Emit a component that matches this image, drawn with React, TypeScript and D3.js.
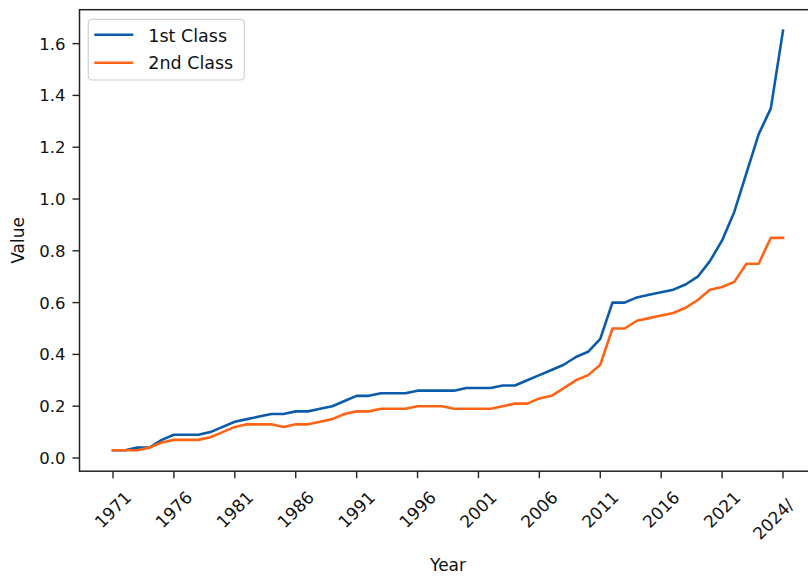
import React from 'react';
import * as d3 from 'd3';

// categories along the x axis (categorical, one slot per entry)
const years = [
  '1971', '1972', '1973', '1974', '1975', '1976', '1977', '1978', '1979', '1980',
  '1981', '1982', '1983', '1984', '1985', '1986', '1987', '1988', '1989', '1990',
  '1991', '1992', '1993', '1994', '1995', '1996', '1997', '1998', '1999', '2000',
  '2001', '2002', '2003', '2004', '2005', '2006', '2007', '2008', '2009', '2010',
  '2011', '2012', '2013', '2014', '2015', '2016', '2017', '2018', '2019', '2020',
  '2021', '2022', '2023', '2023/', '2024', '2024/',
];

const firstClass = [
  0.03, 0.03, 0.04, 0.04, 0.07, 0.09, 0.09, 0.09, 0.10, 0.12,
  0.14, 0.15, 0.16, 0.17, 0.17, 0.18, 0.18, 0.19, 0.20, 0.22,
  0.24, 0.24, 0.25, 0.25, 0.25, 0.26, 0.26, 0.26, 0.26, 0.27,
  0.27, 0.27, 0.28, 0.28, 0.30, 0.32, 0.34, 0.36, 0.39, 0.41,
  0.46, 0.60, 0.60, 0.62, 0.63, 0.64, 0.65, 0.67, 0.70, 0.76,
  0.84, 0.95, 1.10, 1.25, 1.35, 1.65,
];

const secondClass = [
  0.03, 0.03, 0.03, 0.04, 0.06, 0.07, 0.07, 0.07, 0.08, 0.10,
  0.12, 0.13, 0.13, 0.13, 0.12, 0.13, 0.13, 0.14, 0.15, 0.17,
  0.18, 0.18, 0.19, 0.19, 0.19, 0.20, 0.20, 0.20, 0.19, 0.19,
  0.19, 0.19, 0.20, 0.21, 0.21, 0.23, 0.24, 0.27, 0.30, 0.32,
  0.36, 0.50, 0.50, 0.53, 0.54, 0.55, 0.56, 0.58, 0.61, 0.65,
  0.66, 0.68, 0.75, 0.75, 0.85, 0.85,
];

const seriesNames = ['1st Class', '2nd Class'];
const seriesColors = ['#0b5bab', '#ff6414'];

const yTicks = [0, 0.2, 0.4, 0.6, 0.8, 1.0, 1.2, 1.4, 1.6];
// every 5th category plus the last one
const xTickIdx = [0, 5, 10, 15, 20, 25, 30, 35, 40, 45, 50, 55];

const W = 808;
const H = 576;
const font = 'DejaVu Sans, sans-serif';

export default function App() {
  const n = years.length;
  const all = firstClass.concat(secondClass);
  const lo = d3.min(all) as number;
  const hi = d3.max(all) as number;
  const ypad = (hi - lo) * 0.05;
  const xpad = (n - 1) * 0.05;

  const x = d3.scaleLinear().domain([-xpad, n - 1 + xpad]).range([79.5, 816.5]);
  const y = d3.scaleLinear().domain([lo - ypad, hi + ypad]).range([471.2, 9.7]);

  const line = d3.line<number>()
    .x((_, i) => x(i))
    .y(d => y(d));

  const left = x(-xpad);
  const right = x(n - 1 + xpad);
  const top = y(hi + ypad);
  const bottom = y(lo - ypad);

  return (
    <svg width={W} height={H} style={{ position: 'absolute', left: 0, top: 0, background: '#fff' }}
      fontFamily={font}>
      <rect x={0} y={0} width={W} height={H} fill="#fff" />

      {/* series */}
      {[firstClass, secondClass].map((s, k) => (
        <path key={k} d={line(s) || ''} fill="none" stroke={seriesColors[k]}
          strokeWidth={2.6} strokeLinejoin="round" strokeLinecap="square" />
      ))}

      {/* frame */}
      <rect x={left} y={top} width={right - left} height={bottom - top}
        fill="none" stroke="#222" strokeWidth={1.5} />

      {/* y axis */}
      {yTicks.map(t => (
        <g key={t}>
          <line x1={left - 7} x2={left} y1={y(t)} y2={y(t)} stroke="#222" strokeWidth={1.4} />
          <text x={left - 14} y={y(t)} dy="0.36em" textAnchor="end" fontSize={16.5} fill="#111">
            {t.toFixed(1)}
          </text>
        </g>
      ))}
      <text transform={`translate(24,${(top + bottom) / 2}) rotate(-90)`} textAnchor="middle"
        fontSize={17} fill="#111">Value</text>

      {/* x axis */}
      {xTickIdx.map(i => {
        const label = years[i];
        const extra = label.length > 4 ? '\u00a0\u00a0' : '';
        return (
          <g key={i}>
            <line x1={x(i)} x2={x(i)} y1={bottom} y2={bottom + 7} stroke="#222" strokeWidth={1.4} />
            <text transform={`translate(${x(i) + 19.5},498.5) rotate(-45)`} textAnchor="end"
              fontSize={17} fill="#111">{label + extra}</text>
          </g>
        );
      })}
      <text x={(left + right) / 2} y={571} textAnchor="middle" fontSize={17} fill="#111">Year</text>

      {/* legend */}
      <rect x={88.3} y={19.3} width={156} height={60.7} rx={4} fill="#fff" fillOpacity={0.8}
        stroke="#d0d0d0" strokeWidth={1.2} />
      {seriesNames.map((name, k) => (
        <g key={name}>
          <line x1={94.3} x2={133.3} y1={34.7 + k * 28} y2={34.7 + k * 28}
            stroke={seriesColors[k]} strokeWidth={2.6} />
          <text x={148.3} y={41.7 + k * 27.6} fontSize={17.5} fill="#111">{name}</text>
        </g>
      ))}
    </svg>
  );
}
